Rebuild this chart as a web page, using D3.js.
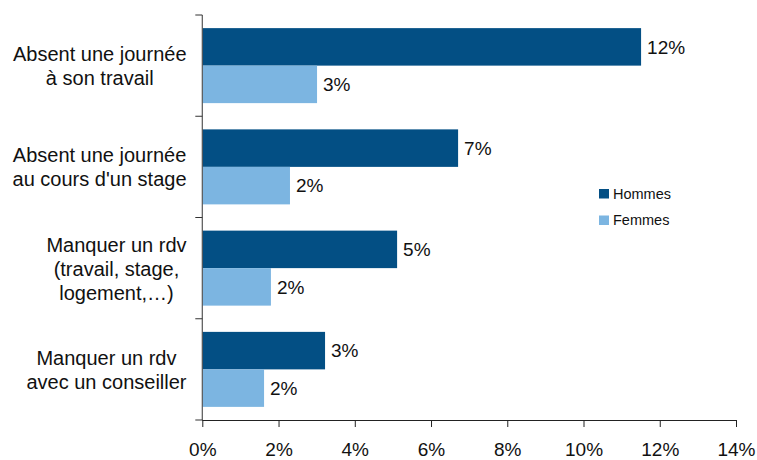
<!DOCTYPE html>
<html>
<head>
<meta charset="utf-8">
<script src="https://cdn.jsdelivr.net/npm/d3@7/dist/d3.min.js"></script>
<style>
  html, body { margin: 0; padding: 0; background: #fff; }
  svg { display: block; font-family: "Liberation Sans", Arial, sans-serif; }
</style>
</head>
<body>
<svg id="chart" width="757" height="460"></svg>
<script>
// Categories (each label split into its display lines)
const categories = [
  "Absent une journée|à son travail",
  "Absent une journée|au cours d'un stage",
  "Manquer un rdv|(travail, stage,|logement,…)",
  "Manquer un rdv|avec un conseiller"
];
const seriesNames = ["Hommes", "Femmes"];
const hommes = [0.1151, 0.0671, 0.0511, 0.0322];
const femmes = [0.0301, 0.0230, 0.0180, 0.0162];
const xTicks = [0, 0.02, 0.04, 0.06, 0.08, 0.10, 0.12, 0.14];
const colors = ["#034f84", "#7cb5e1"];

const svg = d3.select("#chart");
const x0 = 202.3, x1 = 736, yTop = 15, yBot = 420;

const x = d3.scaleLinear().domain([0, 0.14]).range([x0, x1]);
const y = d3.scaleBand().domain(categories).range([yTop, yBot]).padding(0);
const ySub = d3.scaleBand().domain(seriesNames).range([0, y.bandwidth()])
  .paddingInner(0).paddingOuter(0.35);
const color = d3.scaleOrdinal().domain(seriesNames).range(colors);
const pct = d3.format(".0%");

const rows = categories.map((c, i) => ({
  cat: c,
  values: [
    { s: "Hommes", v: hommes[i] },
    { s: "Femmes", v: femmes[i] }
  ]
}));

// Bars
const groups = svg.append("g").selectAll("g").data(rows).join("g")
  .attr("transform", d => `translate(0,${y(d.cat)})`);

groups.selectAll("rect").data(d => d.values).join("rect")
  .attr("x", x(0))
  .attr("y", d => ySub(d.s))
  .attr("width", d => x(d.v) - x(0))
  .attr("height", ySub.bandwidth())
  .attr("fill", d => color(d.s));

// Value labels
groups.selectAll("text").data(d => d.values).join("text")
  .attr("x", d => x(d.v) + 6)
  .attr("y", d => ySub(d.s) + ySub.bandwidth() / 2)
  .attr("dy", "0.36em")
  .attr("font-size", 19)
  .attr("fill", "#111")
  .text(d => pct(d.v));

// X axis
const xAxis = svg.append("g")
  .attr("transform", `translate(0,${yBot})`)
  .call(d3.axisBottom(x).tickValues(xTicks).tickFormat(pct).tickSize(7).tickSizeOuter(0));
xAxis.select(".domain").attr("stroke", "#222").attr("d", `M${x0},0.5H${x1}`);
xAxis.selectAll(".tick line").attr("stroke", "#222");
xAxis.selectAll(".tick text")
  .attr("font-size", 19)
  .attr("font-family", "Liberation Sans, Arial, sans-serif")
  .attr("fill", "#111")
  .attr("y", 0)
  .attr("dy", "36");

// Y axis: vertical line with tick marks at category boundaries
const boundaries = categories.map(c => y(c)).concat([yBot]);
svg.append("line")
  .attr("x1", x0).attr("x2", x0)
  .attr("y1", yTop).attr("y2", yBot)
  .attr("stroke", "#555").attr("stroke-width", 1.2);
svg.append("g").selectAll("line").data(boundaries).join("line")
  .attr("x1", x0 - 7).attr("x2", x0)
  .attr("y1", d => d).attr("y2", d => d)
  .attr("stroke", "#333").attr("stroke-width", 1);

// Category labels: each block sits against the axis, its lines centred in the block
const lineH = 24, labelRight = 186.5;
svg.append("g").selectAll("text").data(categories).join("text")
  .attr("text-anchor", "middle")
  .attr("font-size", 20)
  .attr("fill", "#111")
  .each(function (c) {
    const lines = c.split("|");
    const cy = y(c) + y.bandwidth() / 2;
    const first = cy - (lines.length - 1) * lineH / 2 + 7.5;
    const spans = d3.select(this).selectAll("tspan").data(lines).join("tspan")
      .attr("y", (l, i) => first + i * lineH)
      .text(l => l);
    const maxW = d3.max(spans.nodes(), n => n.getComputedTextLength());
    spans.attr("x", labelRight - maxW / 2);
  });

// Legend
const legend = svg.append("g").selectAll("g").data(seriesNames).join("g")
  .attr("transform", (d, i) => `translate(599,${189 + i * 26.5})`);
legend.append("rect")
  .attr("width", 10).attr("height", 9.5)
  .attr("fill", d => color(d));
legend.append("text")
  .attr("x", 14).attr("y", 9.5)
  .attr("font-size", 14.5)
  .attr("fill", "#111")
  .text(d => d);
</script>
</body>
</html>
